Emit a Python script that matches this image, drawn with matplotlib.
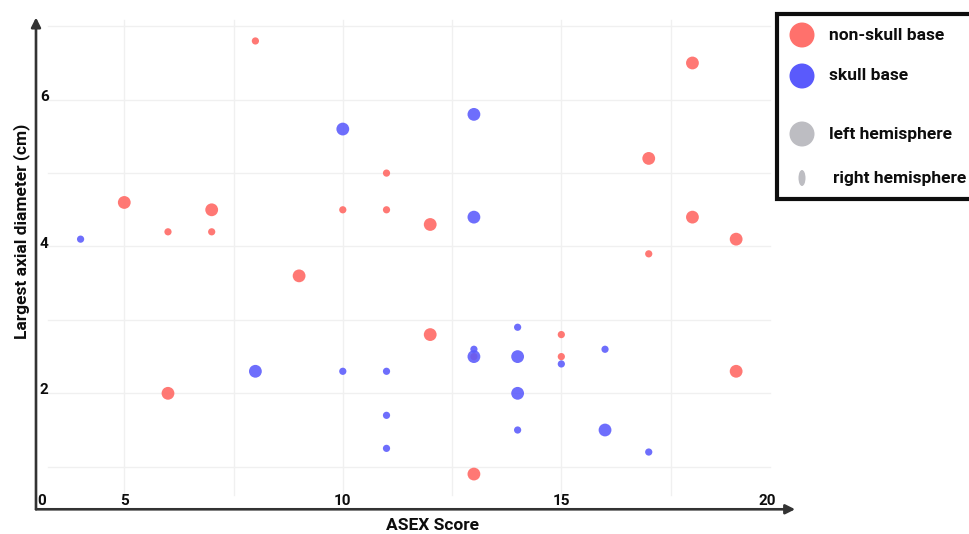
import matplotlib
matplotlib.use("Agg")
import matplotlib.pyplot as plt
from matplotlib.patches import Rectangle, Ellipse

plt.rcParams['font.family'] = ['Roboto', 'DejaVu Sans']

# ---- data ----
nonskull_x = [8, 18, 17, 5, 11, 7, 10, 11, 6, 7, 12, 18, 19, 17, 9, 12, 15, 15, 19, 6, 13, 13]
nonskull_y = [6.8, 6.5, 5.2, 4.6, 5.0, 4.5, 4.5, 4.5, 4.2, 4.2, 4.3, 4.4, 4.1, 3.9, 3.6, 2.8, 2.8, 2.5, 2.3, 2.0, 0.9, 2.5]
nonskull_hemi = ['R', 'L', 'L', 'L', 'R', 'L', 'R', 'R', 'R', 'R', 'L', 'L', 'L', 'R', 'L', 'L', 'R', 'R', 'L', 'L', 'L', 'R']

skull_x = [4, 10, 13, 13, 8, 10, 11, 11, 11, 13, 13, 14, 14, 14, 14, 15, 16, 16, 17]
skull_y = [4.1, 5.6, 5.8, 4.4, 2.3, 2.3, 2.3, 1.7, 1.25, 2.6, 2.5, 2.9, 2.5, 2.0, 1.5, 2.4, 2.6, 1.5, 1.2]
skull_hemi = ['R', 'L', 'L', 'L', 'L', 'R', 'R', 'R', 'R', 'R', 'L', 'R', 'L', 'L', 'R', 'R', 'R', 'L', 'R']

xtick_values = [0, 5, 10, 15, 20]
xtick_labels = ['0', '5', '10', '15', '20']
ytick_values = [2, 4, 6]
ytick_labels = ['2', '4', '6']

legend_labels = ['non-skull base', 'skull base', 'left hemisphere', 'right hemisphere']

# ---- style ----
RED = '#ff716c'
BLUE = '#5a5afc'
GRAY = '#bdbdc2'
size_map = {'L': 85, 'R': 27}
TXT = '#0d0d0d'

fig = plt.figure(figsize=(9.69, 5.34), dpi=100)
W, H = 969, 534
ax = fig.add_axes([32.5 / W, (H - 518.1) / H, (801.7 - 32.5) / W, (518.1 - 11.6) / H])
ax.set_xlim(2.9, 20.5)
ax.set_ylim(0.3, 7.2)
ax.axis('off')

# grid
grid_x0, grid_x1 = 3.25, 19.78
grid_y0, grid_y1 = 0.61, 7.09
for gy in [1, 2, 3, 4, 5, 6, 7]:
    ax.plot([grid_x0, grid_x1], [gy, gy], color='#f0f0f0', lw=1.0, zorder=1)
for gx in [5, 7.5, 10, 12.5, 15, 17.5]:
    ax.plot([gx, gx], [grid_y0, grid_y1], color='#f0f0f0', lw=1.0, zorder=1)

# points
ax.scatter(nonskull_x, nonskull_y, s=[size_map[h] for h in nonskull_hemi],
           color=RED, alpha=0.95, edgecolors='none', zorder=3)
ax.scatter(skull_x, skull_y, s=[size_map[h] for h in skull_hemi],
           color=BLUE, alpha=0.88, edgecolors='none', zorder=4)

# axes arrows
x_axis_y = 0.42
y_axis_x = 2.98
ax.annotate('', xy=(20.35, x_axis_y), xytext=(y_axis_x, x_axis_y),
            arrowprops=dict(arrowstyle='-|>', lw=1.9, color='#333333', mutation_scale=14,
                            shrinkA=0, shrinkB=0), annotation_clip=False, zorder=5)
ax.annotate('', xy=(y_axis_x, 7.12), xytext=(y_axis_x, x_axis_y),
            arrowprops=dict(arrowstyle='-|>', lw=1.9, color='#333333', mutation_scale=14,
                            shrinkA=0, shrinkB=0), annotation_clip=False, zorder=5)

# tick labels (drawn inside the axis corner, as in the reference)
for v, lab in zip(xtick_values, xtick_labels):
    pos = min(max(v, 3.11), 19.72)
    ax.text(pos, 0.53, lab, ha='center', va='center', fontsize=11,
            fontweight='bold', color=TXT, zorder=6)
for v, lab in zip(ytick_values, ytick_labels):
    ax.text(3.07, v + 0.04, lab, ha='left', va='center', fontsize=11,
            fontweight='bold', color=TXT, zorder=6)

# axis titles
fig.text(433 / W, 1 - 525 / H, 'ASEX Score', ha='center', va='center',
         fontsize=12.5, fontweight='bold', color=TXT)
fig.text(21.5 / W, 1 - 231 / H, 'Largest axial diameter (cm)', ha='center', va='center',
         rotation=90, fontsize=12.5, fontweight='bold', color=TXT)

# legend (manual, in pixel coordinates)
lx0 = 770
lax = fig.add_axes([lx0 / W, (H - 210) / H, (W - lx0) / W, 210 / H])
lax.set_xlim(lx0, W)
lax.set_ylim(210, 0)
lax.axis('off')
lax.add_patch(Rectangle((776.5, 13.5), 260, 185, facecolor='white', edgecolor='#0d0d0d',
                        lw=3.0, clip_on=False, zorder=1))
legend_colors = [RED, BLUE, GRAY, GRAY]
legend_ys = [35, 76, 134, 178]
legend_w = [25, 25, 25, 7]
legend_h = [25, 25, 25, 16]
legend_tx = [829, 829, 829, 833]
for lab, c, yy, ew, eh, tx in zip(legend_labels, legend_colors, legend_ys, legend_w, legend_h, legend_tx):
    lax.add_patch(Ellipse((802, yy), ew, eh, facecolor=c, edgecolor='none', zorder=2))
    lax.text(tx, yy, lab, ha='left', va='center', fontsize=12.5, fontweight='bold',
             color=TXT, zorder=3)

fig.savefig('out.png', dpi=100)
